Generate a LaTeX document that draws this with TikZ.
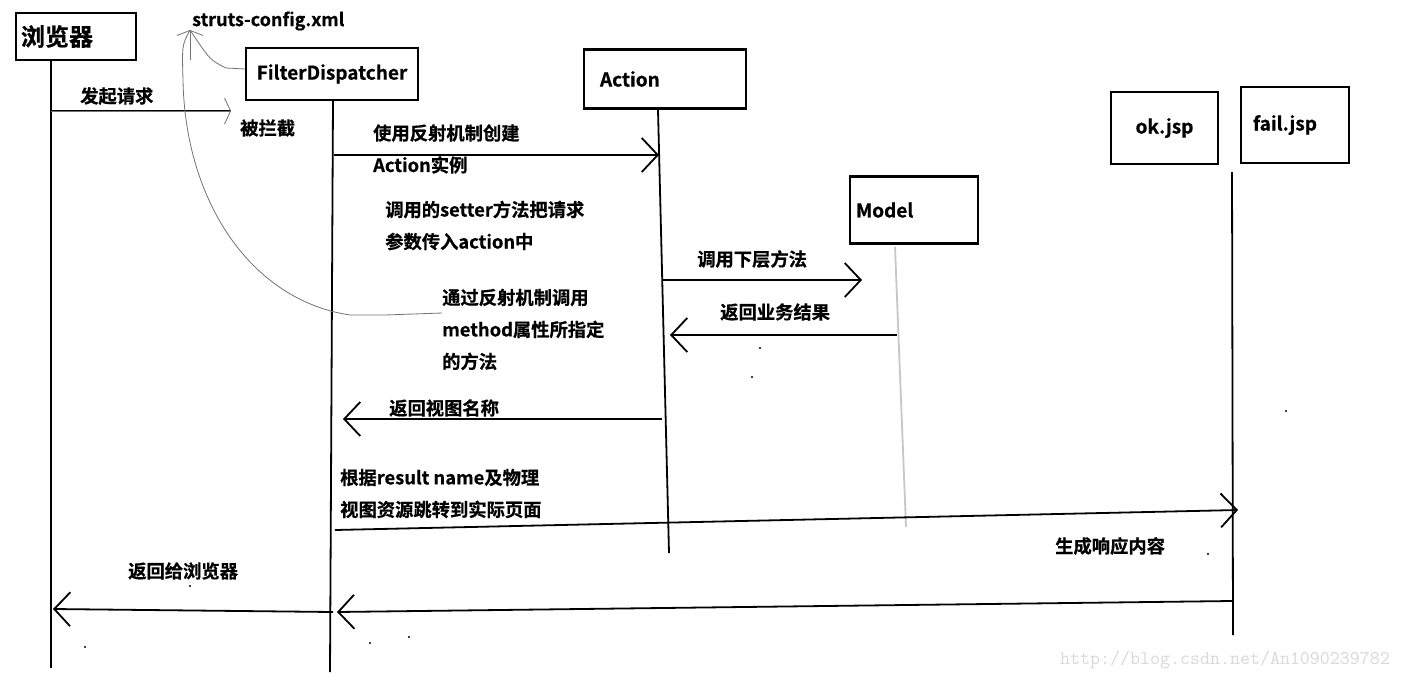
\documentclass[tikz,border=0pt]{standalone}
\usepackage{fontspec}
\setmainfont{Noto Sans CJK SC}[BoldFont={* Bold},BoldFeatures={FakeBold=0.6}]
\usetikzlibrary{arrows.meta}

\begin{document}
\begin{tikzpicture}[x=1pt,y=-1pt,
  obj/.style={draw,line width=2.2pt,inner sep=0pt,font=\bfseries\fontsize{19}{22}\selectfont},
  lbl/.style={inner sep=0pt,anchor=west,align=left,font=\bfseries\fontsize{18.3}{32}\selectfont},
  life/.style={line width=1.8pt},
  msg/.style={line width=1.8pt,-{Straight Barb[length=16pt,width=34pt,line width=1.8pt]}},
  note/.style={draw=black!55,line width=0.8pt},
  speck/.style={fill=black,inner sep=0pt,minimum size=2.4pt,circle}]
\fill[white] (0,0) rectangle (1402,680);
\useasboundingbox (0,0) rectangle (1402,680);

% objects
\node[obj,minimum width=120pt,minimum height=47pt,text width=110pt,inner xsep=5pt,align=left,
  font=\bfseries\fontsize{24}{26}\selectfont] (browser) at (76,36.5) {浏览器};
\node[obj,minimum width=172pt,minimum height=52pt] (filter) at (332,74) {FilterDispatcher};
\node[obj,minimum width=162pt,minimum height=59pt,text width=130pt,inner xsep=16pt,align=left] (action) at (665,79) {Action};
\node[obj,minimum width=128pt,minimum height=67pt,text width=116pt,inner xsep=6pt,align=left] (model) at (914,210) {Model};
\node[obj,minimum width=107pt,minimum height=72pt] (okjsp) at (1164.5,128) {ok.jsp};
\node[obj,minimum width=108pt,minimum height=76pt,text width=84pt,inner xsep=12pt,align=left] (failjsp) at (1295,125) {fail.jsp};
\node[lbl,font=\bfseries\fontsize{18}{20}\selectfont] (config) at (192,21) {struts-config.xml};

% lifelines
\coordinate (bT) at (51,60);    \coordinate (bB) at (51,668);
\coordinate (fT) at (333,100);  \coordinate (fB) at (330,672);
\coordinate (aT) at (658,110);  \coordinate (aB) at (669,553);
\coordinate (mT) at (895,247);  \coordinate (mB) at (906,527);
\coordinate (jT) at (1232,172); \coordinate (jB) at (1233,635);
\draw[life] (bT) -- (bB);
\draw[life] (fT) -- (fB);
\draw[life] (aT) -- (aB);
\draw[line width=1.8pt,black!22] (mT) -- (mB);
\draw[life] (jT) -- (jB);

% messages
\coordinate (m1a) at (51,111);   \coordinate (m1b) at (231,111);
\coordinate (m2a) at (334,155);  \coordinate (m2b) at (659,155);
\coordinate (m3a) at (662,280);  \coordinate (m3b) at (862,280);
\coordinate (m4a) at (897,335);  \coordinate (m4b) at (670,335);
\coordinate (m5a) at (662,419);  \coordinate (m5b) at (343,419);
\coordinate (m6a) at (335,530);  \coordinate (m6b) at (1238,510);
\coordinate (m7a) at (1232,601); \coordinate (m7b) at (337,612);
\coordinate (m8a) at (333,612);  \coordinate (m8b) at (53,609);
\draw[life] (m1a) -- (m1b);
\draw[note,-{Straight Barb[length=6pt,width=26pt,line width=0.8pt]}] (m1a) -- (m1b);
\draw[msg] (m2a) -- (m2b);
\draw[msg] (m3a) -- (m3b);
\draw[msg] (m4a) -- (m4b);
\draw[msg] (m5a) -- (m5b);
\draw[msg] (m6a) -- (m6b);
\draw[msg] (m7a) -- (m7b);
\draw[msg] (m8a) -- (m8b);

% labels
\node[lbl] (l1) at (80,96) {发起请求};
\node[lbl] (l2) at (240,128) {被拦截};
\node[lbl] (l3) at (373,149) {使用反射机制创建\\Action实例};
\node[lbl] (l4) at (385,225.5) {调用的setter方法把请求\\参数传入action中};
\node[lbl] (l5) at (442,329.5) {通过反射机制调用\\method属性所指定\\的方法};
\node[lbl] (l6) at (697,259) {调用下层方法};
\node[lbl] (l7) at (720,312) {返回业务结果};
\node[lbl] (l8) at (389,408) {返回视图名称};
\node[lbl] (l9) at (340,493.5) {根据result name及物理\\视图资源跳转到实际页面};
\node[lbl] (l10) at (1055,546) {生成响应内容};
\node[lbl] (l11) at (128,571) {返回给浏览器};

% hand-drawn notes to struts-config.xml
\coordinate (cfg) at (190,30);
\coordinate (cfgstem) at (190,60);
\draw[note,-{Straight Barb[length=5pt,width=26pt,line width=0.8pt]}] (cfgstem) -- (cfg);
\draw[note] (l5.west |- 0,313) -- (385,315) -- (350,315)
  .. controls (250,300) and (185,200) .. (183,80) .. controls (182,45) .. (cfg);
\draw[note] (filter.west |- 0,69) -- (226,68) .. controls (210,60) .. (cfg);

% specks
\foreach \p [count=\i] in {(760,348),(752,377),(1286,411),(1208,554),(190,586),(85,647),(370,643),(409,637)}
  \node[speck] (s\i) at \p {};

\node[anchor=west,inner sep=0pt,text=black!15,font=\ttfamily\fontsize{19.4}{20}\selectfont] (mark) at (1060,660) {http://blog.csdn.net/An1090239782};
\end{tikzpicture}
\end{document}
